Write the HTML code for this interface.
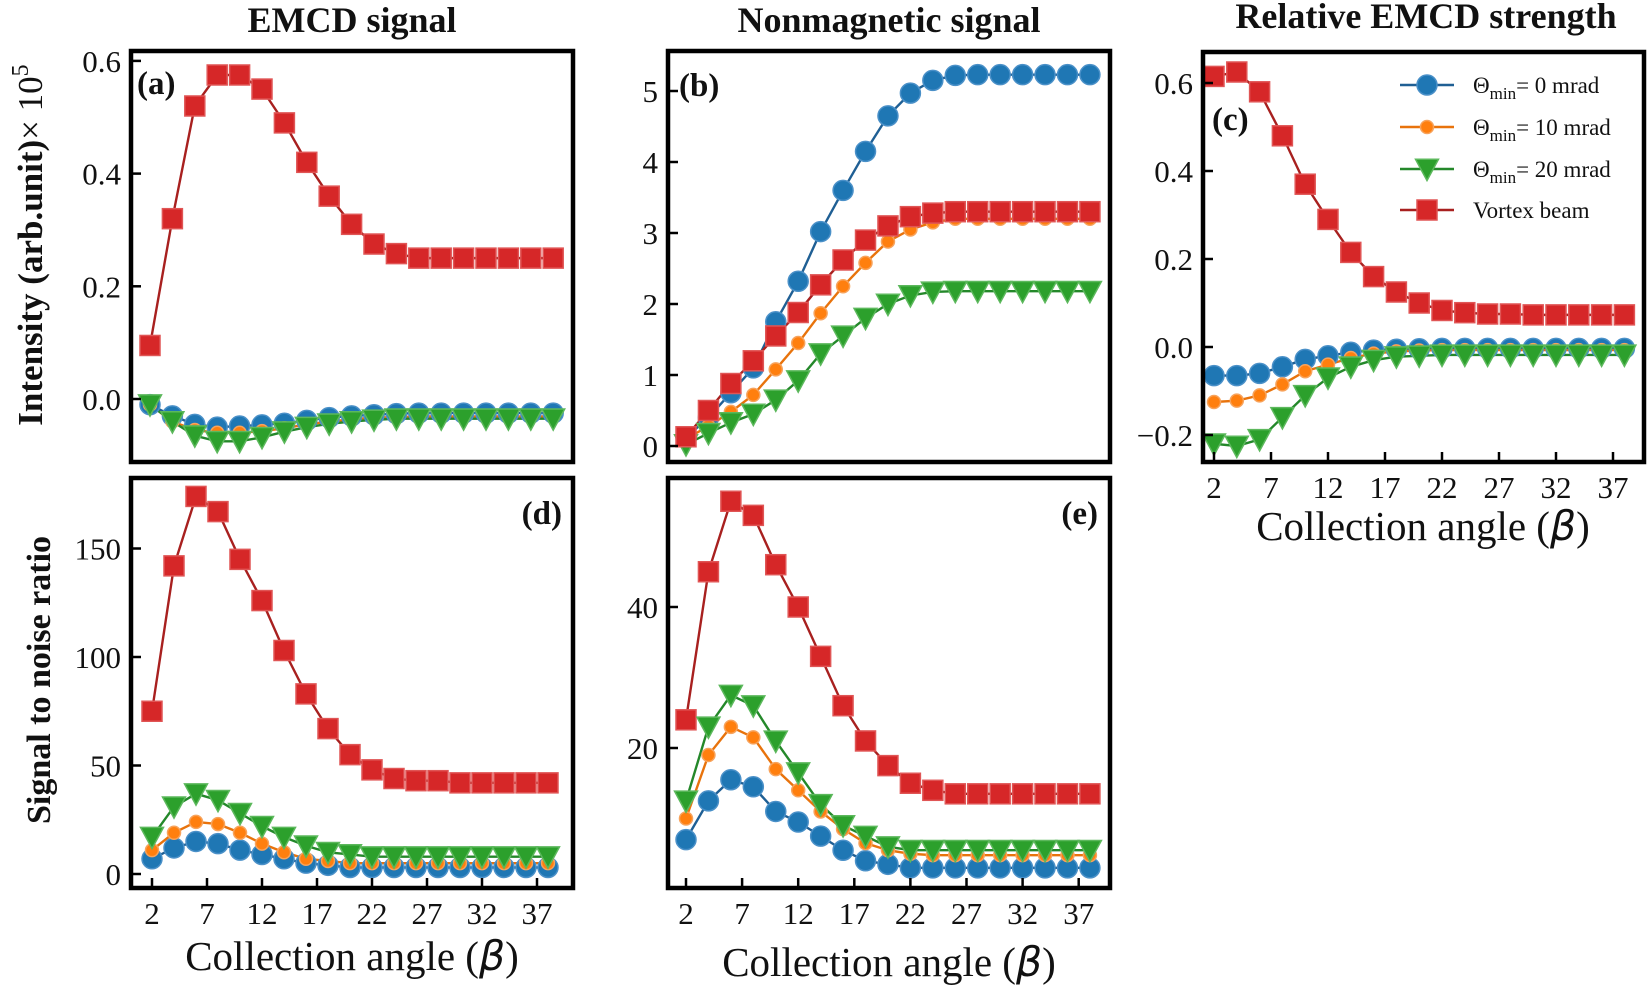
<!DOCTYPE html>
<html><head><meta charset="utf-8"><style>
html,body{margin:0;padding:0;background:#fff}
svg{display:block}
text{font-family:"Liberation Serif",serif;fill:#111}
</style></head><body>
<svg id="s" width="1650" height="986" xmlns="http://www.w3.org/2000/svg">
<text x="352" y="32" font-size="36" font-weight="bold" text-anchor="middle">EMCD signal</text>
<text x="889" y="32" font-size="36" font-weight="bold" text-anchor="middle">Nonmagnetic signal</text>
<text x="1426" y="28" font-size="36" font-weight="bold" text-anchor="middle">Relative EMCD strength</text>
<text transform="translate(42,245) rotate(-90)" font-size="35" font-weight="bold" text-anchor="middle">Intensity (arb.unit)<tspan font-weight="normal">× 10</tspan><tspan font-weight="normal" font-size="24" dy="-14">5</tspan></text>
<text transform="translate(50,680) rotate(-90)" font-size="34" font-weight="bold" text-anchor="middle">Signal to noise ratio</text>
<text x="352" y="970" font-size="41" text-anchor="middle">Collection angle (<tspan font-style="italic" font-family="DejaVu Sans">β</tspan>)</text>
<text x="889" y="976" font-size="41" text-anchor="middle">Collection angle (<tspan font-style="italic" font-family="DejaVu Sans">β</tspan>)</text>
<text x="1423" y="540" font-size="41" text-anchor="middle">Collection angle (<tspan font-style="italic" font-family="DejaVu Sans">β</tspan>)</text>
</svg>
<script>
const S=document.getElementById('s');const NS='http://www.w3.org/2000/svg';
function el(t,a,txt){const e=document.createElementNS(NS,t);for(const k in a)e.setAttribute(k,a[k]);if(txt!==undefined)e.textContent=txt;S.appendChild(e);return e;}
const X=[];for(let i=2;i<=38;i+=2)X.push(i);
const C={b:'#1f77b4',o:'#ff7f0e',g:'#2ca02c',r:'#d62728'};
const LC={b:'#1f5f94',o:'#e8730c',g:'#24882a',r:'#a8201f'};
function marker(k,x,y,sz){
 if(k==='b')el('circle',{cx:x,cy:y,r:sz.b,fill:C.b,stroke:'#4a90c8','stroke-width':1.5});
 else if(k==='o')el('circle',{cx:x,cy:y,r:sz.o,fill:C.o,stroke:'#f7a35c','stroke-width':1.5});
 else if(k==='g'){const s=sz.g;el('polygon',{points:`${x-s},${y-s*0.85} ${x+s},${y-s*0.85} ${x},${y+s}`,fill:C.g,stroke:'#5cb85c','stroke-width':1.5});}
 else {const s=sz.r;el('rect',{x:x-s,y:y-s,width:2*s,height:2*s,fill:C.r,stroke:'#e05555','stroke-width':1.5});}
}
function panel(p){
 const fx=v=>p.x2+(v-2)*p.xs, fy=v=>p.yz-v*p.ys;
 for(const k of ['b','o','g','r']){
  const d=p.d[k];const pts=X.map((x,i)=>fx(x)+','+fy(d[i])).join(' ');
  el('polyline',{points:pts,fill:'none',stroke:LC[k],'stroke-width':2.4});
 }
 for(const k of p.order){const d=p.d[k];X.forEach((x,i)=>marker(k,fx(x),fy(d[i]),p.sz));}
 el('rect',{x:p.x0,y:p.y0,width:p.x1-p.x0,height:p.y1-p.y0,fill:'none',stroke:'#000','stroke-width':4.5});
 p.yt.forEach(t=>{const y=fy(t[0]);el('line',{x1:p.x0,y1:y,x2:p.x0+10,y2:y,stroke:'#000','stroke-width':2.5});
  el('text',{x:p.x0-10,y:y+11,'font-size':31,'text-anchor':'end'},t[1]);});
 if(p.xl){[2,7,12,17,22,27,32,37].forEach(v=>{const x=fx(v);el('line',{x1:x,y1:p.y1,x2:x,y2:p.y1-10,stroke:'#000','stroke-width':2.5});
  el('text',{x:x,y:p.y1+36,'font-size':31,'text-anchor':'middle'},String(v));});}
 el('text',{x:p.lx,y:p.ly,'font-size':33,'font-weight':'bold','text-anchor':p.la||'start'},p.lab);
}
const big={b:10,o:6.5,g:11.5,r:10};
panel({x0:131,x1:573,y0:51,y1:462,x2:150,xs:11.2,yz:399,ys:563.5,sz:big,order:['r','b','o','g'],
 yt:[[0,'0.0'],[0.2,'0.2'],[0.4,'0.4'],[0.6,'0.6']],lab:'(a)',lx:137,ly:94,
 d:{r:[0.095,0.32,0.52,0.575,0.575,0.55,0.49,0.42,0.36,0.31,0.275,0.258,0.25,0.25,0.25,0.25,0.25,0.25,0.25],
 b:[-0.01,-0.03,-0.045,-0.05,-0.048,-0.046,-0.043,-0.038,-0.033,-0.03,-0.028,-0.026,-0.025,-0.025,-0.025,-0.025,-0.025,-0.025,-0.025],
 o:[-0.01,-0.04,-0.055,-0.06,-0.06,-0.057,-0.052,-0.045,-0.04,-0.036,-0.033,-0.032,-0.031,-0.031,-0.031,-0.031,-0.031,-0.031,-0.031],
 g:[-0.01,-0.04,-0.065,-0.075,-0.075,-0.068,-0.058,-0.05,-0.044,-0.04,-0.037,-0.035,-0.035,-0.035,-0.035,-0.035,-0.035,-0.035,-0.035]}});
panel({x0:668,x1:1110,y0:51,y1:462,x2:686,xs:11.22,yz:446,ys:71,sz:big,order:['b','o','g','r'],
 yt:[[0,'0'],[1,'1'],[2,'2'],[3,'3'],[4,'4'],[5,'5']],lab:'(b)',lx:679,ly:96,
 d:{b:[0.12,0.4,0.75,1.1,1.75,2.32,3.02,3.6,4.15,4.65,4.97,5.15,5.22,5.23,5.23,5.23,5.23,5.23,5.23],
 r:[0.13,0.5,0.88,1.2,1.55,1.88,2.27,2.62,2.9,3.1,3.23,3.28,3.3,3.3,3.3,3.3,3.3,3.3,3.3],
 o:[0.1,0.28,0.48,0.72,1.08,1.45,1.87,2.25,2.58,2.88,3.05,3.15,3.2,3.2,3.2,3.2,3.2,3.2,3.2],
 g:[0.02,0.18,0.33,0.45,0.65,0.92,1.3,1.55,1.8,2.0,2.12,2.17,2.18,2.18,2.18,2.18,2.18,2.18,2.18]}});
panel({x0:1203,x1:1644,y0:52,y1:462,x2:1214,xs:11.4,yz:347,ys:440,sz:big,order:['b','o','g','r'],xl:true,
 yt:[[-0.2,'−0.2'],[0,'0.0'],[0.2,'0.2'],[0.4,'0.4'],[0.6,'0.6']],lab:'(c)',lx:1212,ly:130,
 d:{r:[0.615,0.625,0.58,0.48,0.37,0.29,0.215,0.16,0.125,0.1,0.083,0.078,0.075,0.075,0.073,0.073,0.073,0.073,0.073],
 b:[-0.065,-0.065,-0.06,-0.045,-0.028,-0.02,-0.012,-0.007,-0.005,-0.004,-0.003,-0.003,-0.003,-0.003,-0.003,-0.003,-0.003,-0.003,-0.003],
 o:[-0.125,-0.122,-0.11,-0.085,-0.055,-0.04,-0.025,-0.015,-0.01,-0.008,-0.007,-0.007,-0.007,-0.007,-0.007,-0.007,-0.007,-0.007,-0.007],
 g:[-0.22,-0.225,-0.21,-0.16,-0.11,-0.07,-0.045,-0.03,-0.022,-0.02,-0.018,-0.018,-0.018,-0.018,-0.018,-0.018,-0.018,-0.018,-0.018]}});
panel({x0:131,x1:573,y0:478,y1:888,x2:152,xs:11,yz:874,ys:2.17,sz:big,order:['r','b','o','g'],xl:true,
 yt:[[0,'0'],[50,'50'],[100,'100'],[150,'150']],lab:'(d)',lx:562,ly:524,la:'end',
 d:{r:[75,142,174,167,145,126,103,83,67,55,48,44,43,43,42,42,42,42,42],
 g:[17,31,37,34,28,22,17,13,10,9,8,8,8,8,8,8,8,8,8],
 o:[11,19,24,23,19,14,10,7,6,5,5,5,5,5,5,5,5,5,5],
 b:[7,12,15,14,11,9,7,5,4,3,3,3,3,3,3,3,3,3,3]}});
panel({x0:668,x1:1110,y0:478,y1:888,x2:686,xs:11.22,yz:889,ys:7.05,sz:big,order:['r','b','o','g'],xl:true,
 yt:[[20,'20'],[40,'40']],lab:'(e)',lx:1098,ly:524,la:'end',
 d:{r:[24,45,55,53,46,40,33,26,21,17.5,15,14,13.5,13.5,13.5,13.5,13.5,13.5,13.5],
 g:[12.5,23,27.5,26,21,16.5,12,9,7.5,6,5.5,5.5,5.5,5.5,5.5,5.5,5.5,5.5,5.5],
 o:[10,19,23,21.5,17,14,11,8.5,6.5,5.5,5,4.8,4.8,4.8,4.8,4.8,4.8,4.8,4.8],
 b:[7,12.5,15.5,14.5,11,9.5,7.5,5.5,4,3.5,3,3,3,3,3,3,3,3,3]}});
const L=[['b',85,'= 0 mrad'],['o',127,'= 10 mrad'],['g',169,'= 20 mrad'],['r',210,'Vortex beam']];
L.forEach(([k,y,t])=>{el('line',{x1:1400,y1:y,x2:1454,y2:y,stroke:LC[k],'stroke-width':2.4});marker(k,1427,y,big);
 if(k==='r')el('text',{x:1473,y:y+8,'font-size':23},t);
 else{const e=el('text',{x:1473,y:y+8,'font-size':23});e.innerHTML='Θ<tspan font-size="17" dy="6">min</tspan><tspan dy="-6">'+t+'</tspan>';}});
</script>
</body></html>
